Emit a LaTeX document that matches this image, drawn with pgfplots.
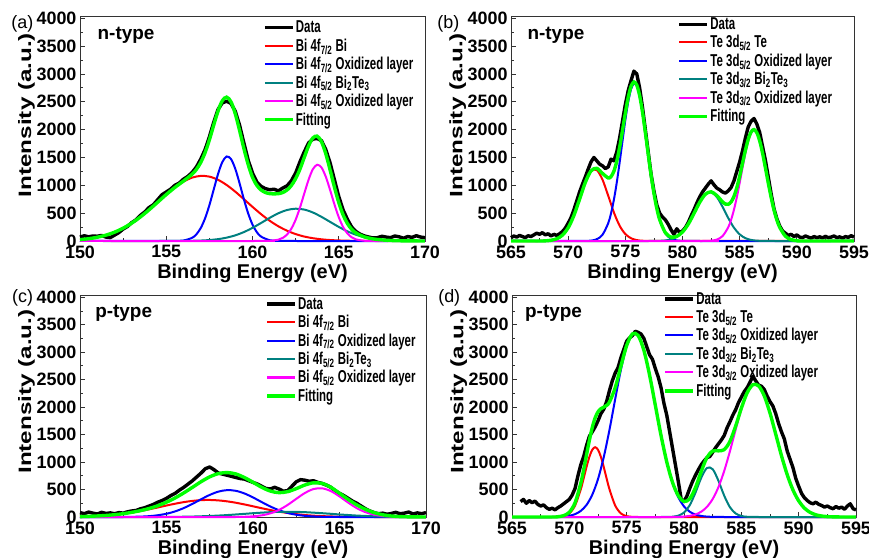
\documentclass[border=0pt]{standalone}
\usepackage{fontspec}
\setmainfont{Liberation Sans}
\usepackage{graphicx}
\usepackage{pgfplots}
\pgfplotsset{compat=1.18}

\definecolor{cRed}{RGB}{255,0,0}
\definecolor{cBlue}{RGB}{0,0,255}
\definecolor{cTeal}{RGB}{0,128,128}
\definecolor{cMag}{RGB}{255,0,255}
\definecolor{cGreen}{RGB}{0,255,0}
\newcommand{\lt}[1]{\scalebox{1}[1.5]{#1}}

\pgfplotsset{
  xps/.style={
    scale only axis, clip=false,
    ymin=0, ymax=4040, ytick={0,500,...,4000},
    minor x tick num=1, minor y tick num=1,
    tick align=inside, tick pos=left,
    major tick length=5bp, minor tick length=3bp,
    axis line style={line width=0.9bp, black!80},
    every tick/.style={black!80, line width=0.8bp},
    scaled ticks=false,
    /pgf/number format/1000 sep={},
    /pgf/number format/assume math mode=true,
    tick label style={font=\fontsize{18}{18}\selectfont\bfseries},
    xticklabel style={yshift=-1bp},
    xlabel={Binding Energy (eV)},
    xlabel style={font=\fontsize{20}{20}\selectfont\bfseries, at={(axis description cs:0.5,0)}, anchor=north, yshift=-23bp, inner sep=0pt},
    ylabel={\scalebox{1.35}[1]{Intensity (a.u.)}},
    ylabel style={font=\fontsize{18}{18}\selectfont\bfseries, at={(axis description cs:-0.155,0.56)}, anchor=center},
    legend cell align=left,
    legend style={draw=none, fill=none, font=\fontsize{11.5}{12}\selectfont\bfseries, anchor=north west, row sep=1.5bp, inner sep=0pt, nodes={inner sep=1.5bp}},
    legend image code/.code={\draw[#1] (0bp,0bp) -- (28bp,0bp);},
  },
  dat/.style={black, line width=3.4bp, line join=round, mark=none},
  comp/.style={smooth, line width=2bp, mark=none},
  fit/.style={smooth, cGreen, line width=3.4bp, mark=none},
}

\begin{document}
\begin{tikzpicture}
\path[use as bounding box] (0,0) rectangle (869bp,558bp);

% ---------------- (a) ----------------
\begin{axis}[xps, at={(80bp,317bp)}, anchor=south west, width=345bp, height=225bp,
  xmin=150, xmax=170, xtick={150,155,...,170},
  legend style={at={(rel axis cs:0.53,0.985)}}]
\addplot[dat] coordinates {(150,70)(150.25,95)(150.5,75)(150.75,90)(151,85)(151.25,100)(151.5,70)(151.75,60)(152,105)(152.25,150)(152.5,215)(152.75,260)(153,330)(153.25,380)(153.5,460)(153.75,520)(154,600)(154.25,650)(154.5,740)(154.75,830)(155,880)(155.25,930)(155.5,1000)(155.75,1040)(156,1110)(156.25,1160)(156.5,1230)(156.75,1330)(157,1470)(157.25,1640)(157.5,1870)(157.75,2130)(158,2360)(158.25,2480)(158.5,2510)(158.75,2470)(159,2330)(159.25,2080)(159.5,1760)(159.75,1450)(160,1220)(160.25,1060)(160.5,980)(160.75,940)(161,920)(161.25,930)(161.5,900)(161.75,950)(162,990)(162.25,1080)(162.5,1220)(162.75,1420)(163,1600)(163.25,1760)(163.5,1830)(163.75,1840)(164,1800)(164.25,1640)(164.5,1400)(164.75,1100)(165,800)(165.25,560)(165.5,390)(165.75,250)(166,170)(166.25,120)(166.5,90)(166.75,70)(167,55)(167.25,60)(167.5,85)(167.75,70)(168,60)(168.25,90)(168.5,75)(168.75,50)(169,80)(169.25,65)(169.5,95)(169.75,70)(170,60)};
\addlegendentry{\lt{Data}}
\addplot[comp, cRed] coordinates {(150,24)(150.5,41)(151,67)(151.5,105)(152,158)(152.5,230)(153,321)(153.5,432)(154,559)(154.5,696)(155,834)(155.5,961)(156,1066)(156.5,1138)(157,1169)(157.5,1156)(158,1099)(158.5,1006)(159,886)(159.5,751)(160,613)(160.5,481)(161,363)(161.5,264)(162,185)(162.5,124)(163,80)(163.5,50)(164,30)(164.5,17)(165,10)(165.5,5)(166,3)(166.5,1)(167,0)(170,0)};
\addlegendentry{\lt{Bi 4f\textsubscript{7/2} Bi}}
\addplot[comp, cBlue] coordinates {(150,0)(155,0)(155.5,1)(156,9)(156.5,57)(156.75,121)(157,233)(157.25,406)(157.5,642)(157.75,922)(158,1200)(158.25,1417)(158.5,1517)(158.75,1473)(159,1298)(159.25,1037)(159.5,751)(159.75,494)(160,294)(160.25,159)(160.5,78)(161,14)(161.5,2)(162,0)(170,0)};
\addlegendentry{\lt{Bi 4f\textsubscript{7/2} Oxidized layer}}
\addplot[comp, cTeal] coordinates {(150,0)(155,0)(156,2)(156.5,4)(157,8)(157.5,17)(158,33)(158.5,60)(159,101)(159.5,160)(160,236)(160.5,324)(161,416)(161.5,498)(162,556)(162.5,580)(163,564)(163.5,512)(164,433)(164.5,343)(165,253)(165.5,174)(166,112)(166.5,67)(167,37)(167.5,19)(168,9)(168.5,4)(169,2)(170,0)};
\addlegendentry{\lt{Bi 4f\textsubscript{5/2} Bi\textsubscript{2}Te\textsubscript{3}}}
\addplot[comp, cMag] coordinates {(150,0)(160.5,0)(161,3)(161.5,24)(161.75,55)(162,115)(162.25,220)(162.5,381)(162.75,598)(163,852)(163.25,1100)(163.5,1289)(163.75,1369)(164,1319)(164.25,1153)(164.5,914)(164.75,657)(165,428)(165.25,253)(165.5,136)(165.75,66)(166,29)(166.5,4)(167,0)(170,0)};
\addlegendentry{\lt{Bi 4f\textsubscript{5/2} Oxidized layer}}
\addplot[fit] coordinates {(150,24)(150.5,41)(151,67)(151.5,105)(152,158)(152.5,230)(153,321)(153.5,432)(154,559)(154.5,696)(155,834)(155.5,962)(156,1077)(156.5,1199)(156.75,1286)(157,1410)(157.25,1586)(157.5,1815)(157.75,2080)(158,2332)(158.25,2519)(158.5,2583)(158.75,2501)(159,2285)(159.25,1985)(159.5,1662)(159.75,1372)(160,1143)(160.25,1000)(160.5,915)(160.75,870)(161,850)(161.25,845)(161.5,850)(161.75,870)(162,915)(162.25,995)(162.5,1120)(162.75,1290)(163,1500)(163.25,1706)(163.5,1851)(163.75,1883)(164,1782)(164.25,1565)(164.5,1274)(164.75,967)(165,691)(165.25,471)(165.5,315)(165.75,210)(166,144)(166.5,72)(167,37)(167.5,19)(168,9)(168.5,4)(169,2)(170,0)};
\addlegendentry{\lt{Fitting}}
\node[anchor=base west, font=\fontsize{19}{19}\selectfont\bfseries] at (rel axis cs:0.041,0.896) {n-type};
\node[anchor=base east, font=\fontsize{18}{18}\selectfont, inner sep=0pt] at (rel axis cs:-0.135,0.945) {(a)};
\end{axis}

% ---------------- (b) ----------------
\begin{axis}[xps, at={(511bp,317bp)}, anchor=south west, width=343bp, height=225bp,
  xmin=565, xmax=595, xtick={565,570,...,595},
  legend style={at={(rel axis cs:0.485,1.0)}}]
\addplot[dat] coordinates {(565,60)(565.25,90)(565.5,70)(565.75,100)(566,80)(566.25,60)(566.5,95)(566.75,80)(567,110)(567.25,140)(567.5,120)(567.75,150)(568,110)(568.25,130)(568.5,90)(568.75,120)(569,100)(569.25,130)(569.5,170)(569.75,230)(570,320)(570.25,420)(570.5,560)(570.75,720)(571,880)(571.25,1020)(571.5,1150)(571.75,1290)(572,1420)(572.25,1500)(572.5,1440)(572.75,1380)(573,1350)(573.25,1300)(573.5,1330)(573.75,1470)(574,1440)(574.25,1600)(574.5,1850)(574.75,2150)(575,2450)(575.25,2700)(575.5,2880)(575.75,3050)(576,3000)(576.25,2750)(576.5,2400)(576.75,2000)(577,1600)(577.25,1200)(577.5,900)(577.75,650)(578,500)(578.25,430)(578.5,380)(578.75,300)(579,200)(579.25,120)(579.5,220)(579.75,150)(580,180)(580.25,240)(580.5,330)(580.75,450)(581,560)(581.25,680)(581.5,790)(581.75,880)(582,950)(582.25,1020)(582.5,1080)(582.75,1010)(583,950)(583.25,920)(583.5,880)(583.75,860)(584,900)(584.25,960)(584.5,1080)(584.75,1250)(585,1420)(585.25,1620)(585.5,1850)(585.75,2050)(586,2150)(586.25,2200)(586.5,2100)(586.75,1950)(587,1700)(587.25,1450)(587.5,1150)(587.75,850)(588,580)(588.25,400)(588.5,270)(588.75,180)(589,140)(589.25,100)(589.5,120)(589.75,80)(590,110)(590.25,70)(590.5,60)(590.75,90)(591,70)(591.25,50)(591.5,80)(591.75,60)(592,75)(592.25,55)(592.5,85)(592.75,60)(593,70)(593.25,90)(593.5,60)(593.75,75)(594,50)(594.25,80)(594.5,65)(594.75,95)(595,70)};
\addlegendentry{\lt{Data}}
\addplot[comp, cRed] coordinates {(565,0)(567.5,0)(568,3)(568.5,13)(569,40)(569.5,105)(570,237)(570.5,457)(571,751)(571.5,1051)(572,1253)(572.5,1274)(573,1103)(573.5,814)(574,512)(574.5,274)(575,125)(575.5,49)(576,16)(576.5,5)(577,1)(577.5,0)(595,0)};
\addlegendentry{\lt{Te 3d\textsubscript{5/2} Te}}
\addplot[comp, cBlue] coordinates {(565,0)(571,0)(571.5,1)(572,7)(572.5,31)(573,111)(573.5,318)(573.75,498)(574,742)(574.25,1049)(574.5,1408)(574.75,1794)(575,2172)(575.25,2497)(575.5,2727)(575.75,2827)(576,2784)(576.25,2603)(576.5,2311)(576.75,1949)(577,1561)(577.25,1187)(577.5,858)(577.75,588)(578,383)(578.5,139)(579,41)(579.5,10)(580,2)(580.5,0)(595,0)};
\addlegendentry{\lt{Te 3d\textsubscript{5/2} Oxidized layer}}
\addplot[comp, cTeal] coordinates {(565,0)(577.5,0)(578,3)(578.5,10)(579,29)(579.5,73)(580,160)(580.5,302)(581,493)(581.5,693)(582,839)(582.5,877)(583,791)(583.5,615)(584,413)(584.5,239)(585,119)(585.5,51)(586,19)(586.5,6)(587,2)(587.5,0)(595,0)};
\addlegendentry{\lt{Te 3d\textsubscript{3/2} Bi\textsubscript{2}Te\textsubscript{3}}}
\addplot[comp, cMag] coordinates {(565,0)(582,0)(582.5,6)(583,25)(583.5,87)(584,246)(584.25,381)(584.5,561)(584.75,785)(585,1043)(585.25,1316)(585.5,1577)(585.75,1795)(586,1939)(586.25,1990)(586.5,1939)(586.75,1795)(587,1577)(587.25,1316)(587.5,1043)(587.75,785)(588,561)(588.25,381)(588.5,246)(589,87)(589.5,25)(590,6)(590.5,0)(595,0)};
\addlegendentry{\lt{Te 3d\textsubscript{3/2} Oxidized layer}}
\addplot[fit] coordinates {(565,0)(567.5,0)(568,3)(568.5,13)(569,40)(569.5,105)(570,237)(570.5,457)(571,752)(571.5,1052)(572,1260)(572.5,1305)(573,1214)(573.5,1132)(573.75,1156)(574,1254)(574.25,1431)(574.5,1682)(574.75,1983)(575,2297)(575.25,2577)(575.5,2776)(575.75,2856)(576,2800)(576.25,2612)(576.5,2316)(576.75,1951)(577,1562)(577.25,1187)(577.5,858)(577.75,589)(578,386)(578.5,149)(579,70)(579.5,83)(580,162)(580.5,302)(581,493)(581.5,693)(582,840)(582.5,883)(583,816)(583.5,702)(583.75,663)(584,659)(584.25,701)(584.5,800)(584.75,957)(585,1162)(585.25,1396)(585.5,1628)(585.75,1827)(586,1958)(586.25,2001)(586.5,1945)(586.75,1799)(587,1579)(587.25,1316)(587.5,1043)(587.75,785)(588,561)(588.25,381)(588.5,246)(589,87)(589.5,25)(590,6)(590.5,0)(595,0)};
\addlegendentry{\lt{Fitting}}
\node[anchor=base west, font=\fontsize{19}{19}\selectfont\bfseries] at (rel axis cs:0.038,0.896) {n-type};
\node[anchor=base east, font=\fontsize{18}{18}\selectfont, inner sep=0pt] at (rel axis cs:-0.15,0.945) {(b)};
\end{axis}

% ---------------- (c) ----------------
\begin{axis}[xps, at={(80bp,41bp)}, anchor=south west, width=346bp, height=222bp,
  xmin=150, xmax=170, xtick={150,155,...,170},
  ylabel style={at={(axis description cs:-0.155,0.565)}},
  legend style={at={(rel axis cs:0.535,0.997)}}]
\addplot[dat] coordinates {(150,80)(150.25,60)(150.5,90)(150.75,70)(151,55)(151.25,85)(151.5,65)(151.75,75)(152,60)(152.25,80)(152.5,70)(152.75,95)(153,110)(153.25,120)(153.5,150)(153.75,170)(154,200)(154.25,230)(154.5,270)(154.75,300)(155,340)(155.25,390)(155.5,430)(155.75,490)(156,540)(156.25,600)(156.5,660)(156.75,730)(157,800)(157.25,880)(157.5,910)(157.75,860)(158,800)(158.25,780)(158.5,760)(158.75,740)(159,720)(159.25,700)(159.5,690)(159.75,660)(160,630)(160.25,600)(160.5,560)(160.75,520)(161,510)(161.25,540)(161.5,510)(161.75,470)(162,480)(162.25,560)(162.5,640)(162.75,680)(163,670)(163.25,650)(163.5,660)(163.75,630)(164,610)(164.25,580)(164.5,540)(164.75,480)(165,430)(165.25,390)(165.5,340)(165.75,290)(166,250)(166.25,200)(166.5,150)(166.75,110)(167,80)(167.25,60)(167.5,70)(167.75,50)(168,65)(168.25,85)(168.5,60)(168.75,70)(169,90)(169.25,55)(169.5,75)(169.75,60)(170,80)};
\addlegendentry{\lt{Data}}
\addplot[comp, cRed] coordinates {(150,7)(150.5,12)(151,19)(151.5,28)(152,42)(152.5,60)(153,82)(153.5,109)(154,140)(154.5,174)(155,209)(155.5,242)(156,271)(156.5,293)(157,307)(157.5,310)(158,302)(158.5,285)(159,260)(159.5,229)(160,195)(160.5,160)(161,127)(161.5,98)(162,73)(162.5,52)(163,36)(163.5,24)(164,16)(164.5,10)(165,6)(165.5,4)(166,2)(167,0)(170,0)};
\addlegendentry{\lt{Bi 4f\textsubscript{7/2} Bi}}
\addplot[comp, cBlue] coordinates {(150,0)(152.5,0)(153,3)(153.5,7)(154,15)(154.5,32)(155,59)(155.5,102)(156,163)(156.5,239)(157,323)(157.5,402)(158,462)(158.5,489)(159,477)(159.5,429)(160,356)(160.5,272)(161,191)(161.5,124)(162,74)(162.5,41)(163,21)(163.5,10)(164,4)(164.5,2)(165,0)(170,0)};
\addlegendentry{\lt{Bi 4f\textsubscript{7/2} Oxidized layer}}
\addplot[comp, cTeal] coordinates {(150,0)(154.5,0)(155,2)(155.5,3)(156,5)(156.5,8)(157,13)(157.5,19)(158,26)(158.5,35)(159,46)(159.5,57)(160,69)(160.5,79)(161,88)(161.5,93)(162,95)(162.5,93)(163,88)(163.5,79)(164,69)(164.5,58)(165,46)(165.5,36)(166,26)(166.5,19)(167,13)(167.5,8)(168,5)(168.5,3)(169,2)(170,0)};
\addlegendentry{\lt{Bi 4f\textsubscript{5/2} Bi\textsubscript{2}Te\textsubscript{3}}}
\addplot[comp, cMag] coordinates {(150,0)(159,0)(159.5,4)(160,12)(160.5,30)(161,66)(161.5,128)(162,219)(162.5,330)(163,437)(163.5,509)(164,522)(164.5,471)(165,375)(165.5,262)(166,161)(166.5,88)(167,42)(167.5,18)(168,7)(168.5,2)(169,0)(170,0)};
\addlegendentry{\lt{Bi 4f\textsubscript{5/2} Oxidized layer}}
\addplot[fit] coordinates {(150,7)(150.5,12)(151,19)(151.5,28)(152,42)(152.5,60)(153,85)(153.5,116)(154,155)(154.5,206)(155,270)(155.5,347)(156,439)(156.5,540)(157,643)(157.5,731)(158,790)(158.5,809)(159,784)(159.5,719)(160,632)(160.5,541)(161,472)(161.5,443)(162,461)(162.5,516)(163,582)(163.5,622)(164,611)(164.5,541)(165,432)(165.5,320)(166,220)(166.5,140)(167,80)(167.5,40)(168,18)(168.5,7)(169,3)(170,0)};
\addlegendentry{\lt{Fitting}}
\node[anchor=base west, font=\fontsize{19}{19}\selectfont\bfseries] at (rel axis cs:0.034,0.898) {p-type};
\node[anchor=base east, font=\fontsize{18}{18}\selectfont, inner sep=0pt] at (rel axis cs:-0.135,0.966) {(c)};
\end{axis}

% ---------------- (d) ----------------
\begin{axis}[xps, at={(512bp,41bp)}, anchor=south west, width=344bp, height=222bp,
  xmin=565, xmax=595, xtick={565,570,...,595},
  ylabel style={at={(axis description cs:-0.155,0.565)}},
  legend style={at={(rel axis cs:0.44,1.02)}}]
\addplot[dat] coordinates {(565.75,280)(566,320)(566.25,250)(566.5,300)(566.75,260)(567,290)(567.25,230)(567.5,200)(567.75,220)(568,170)(568.25,140)(568.5,160)(568.75,130)(569,170)(569.25,200)(569.5,240)(569.75,280)(570,320)(570.25,400)(570.5,520)(570.75,750)(571,950)(571.25,1100)(571.5,1300)(571.75,1470)(572,1550)(572.25,1640)(572.5,1750)(572.75,1880)(573,1960)(573.25,2100)(573.5,2300)(573.75,2480)(574,2620)(574.25,2720)(574.5,2900)(574.75,3050)(575,3200)(575.25,3260)(575.5,3300)(575.75,3380)(576,3360)(576.25,3330)(576.5,3250)(576.75,3100)(577,2950)(577.25,2870)(577.5,2700)(577.75,2550)(578,2350)(578.25,2070)(578.5,1850)(578.75,1550)(579,1250)(579.25,950)(579.5,650)(579.75,330)(580,280)(580.25,380)(580.5,520)(580.75,650)(581,760)(581.25,860)(581.5,950)(581.75,1020)(582,1080)(582.25,1100)(582.5,1180)(582.75,1260)(583,1330)(583.25,1400)(583.5,1480)(583.75,1620)(584,1730)(584.25,1850)(584.5,1950)(584.75,2080)(585,2180)(585.25,2280)(585.5,2350)(585.75,2450)(586,2560)(586.25,2480)(586.5,2400)(586.75,2380)(587,2320)(587.25,2200)(587.5,2100)(587.75,2020)(588,1880)(588.25,1700)(588.5,1550)(588.75,1420)(589,1200)(589.25,1050)(589.5,900)(589.75,700)(590,560)(590.25,430)(590.5,350)(590.75,300)(591,260)(591.25,240)(591.5,270)(591.75,230)(592,210)(592.25,180)(592.5,200)(592.75,170)(593,150)(593.25,190)(593.5,160)(593.75,180)(594,140)(594.25,200)(594.5,240)(594.75,150)(595,130)};
\addlegendentry{\lt{Data}}
\addplot[comp, cRed] coordinates {(565,0)(568.5,0)(569,2)(569.5,15)(570,64)(570.5,208)(571,505)(571.25,704)(571.5,911)(571.75,1096)(572,1224)(572.25,1270)(572.5,1224)(572.75,1096)(573,911)(573.25,704)(573.5,505)(574,208)(574.5,64)(575,15)(575.5,3)(576,0)(595,0)};
\addlegendentry{\lt{Te 3d\textsubscript{5/2} Te}}
\addplot[comp, cBlue] coordinates {(565,0)(568.5,0)(569,3)(569.5,9)(570,22)(570.5,52)(571,111)(571.5,220)(572,405)(572.5,690)(573,1088)(573.5,1587)(574,2145)(574.5,2682)(575,3106)(575.5,3329)(576,3304)(576.5,3035)(577,2581)(577.5,2032)(578,1481)(578.5,999)(579,624)(579.5,361)(580,193)(580.5,96)(581,44)(581.5,19)(582,7)(582.5,3)(583,1)(583.5,0)(595,0)};
\addlegendentry{\lt{Te 3d\textsubscript{5/2} Oxidized layer}}
\addplot[comp, cTeal] coordinates {(565,0)(578,0)(578.5,1)(579,5)(579.5,24)(580,81)(580.5,214)(581,443)(581.5,712)(582,892)(582.5,870)(583,661)(583.5,391)(584,180)(584.5,65)(585,18)(585.5,4)(586,1)(586.5,0)(595,0)};
\addlegendentry{\lt{Te 3d\textsubscript{3/2} Bi\textsubscript{2}Te\textsubscript{3}}}
\addplot[comp, cMag] coordinates {(565,0)(579,0)(579.5,3)(580,9)(580.5,21)(581,47)(581.5,96)(582,184)(582.5,327)(583,542)(583.5,834)(584,1193)(584.5,1587)(585,1961)(585.5,2253)(586,2406)(586.5,2388)(587,2204)(587.5,1891)(588,1507)(588.5,1117)(589,770)(589.5,493)(590,294)(590.5,162)(591,84)(591.5,40)(592,18)(592.5,7)(593,3)(593.5,1)(594,0)(595,0)};
\addlegendentry{\lt{Te 3d\textsubscript{3/2} Oxidized layer}}
\addplot[fit] coordinates {(565,0)(568.5,0)(569,5)(569.5,24)(570,86)(570.5,260)(571,616)(571.25,862)(571.5,1131)(571.75,1397)(572,1629)(572.25,1804)(572.5,1914)(572.75,1970)(573,1999)(573.25,2031)(573.5,2092)(574,2353)(574.5,2746)(575,3121)(575.5,3332)(576,3304)(576.5,3035)(577,2581)(577.5,2032)(578,1481)(578.5,1000)(579,629)(579.5,388)(580,283)(580.5,331)(581,534)(581.5,827)(582,1083)(582.5,1200)(583,1204)(583.5,1225)(584,1373)(584.5,1652)(585,1979)(585.5,2257)(586,2407)(586.5,2388)(587,2204)(587.5,1891)(588,1507)(588.5,1117)(589,770)(589.5,493)(590,294)(590.5,162)(591,84)(591.5,40)(592,18)(592.5,7)(593,3)(593.5,1)(594,0)(595,0)};
\addlegendentry{\lt{Fitting}}
\node[anchor=base west, font=\fontsize{19}{19}\selectfont\bfseries] at (rel axis cs:0.028,0.898) {p-type};
\node[anchor=base east, font=\fontsize{18}{18}\selectfont, inner sep=0pt] at (rel axis cs:-0.15,0.966) {(d)};
\end{axis}
\end{tikzpicture}
\end{document}
